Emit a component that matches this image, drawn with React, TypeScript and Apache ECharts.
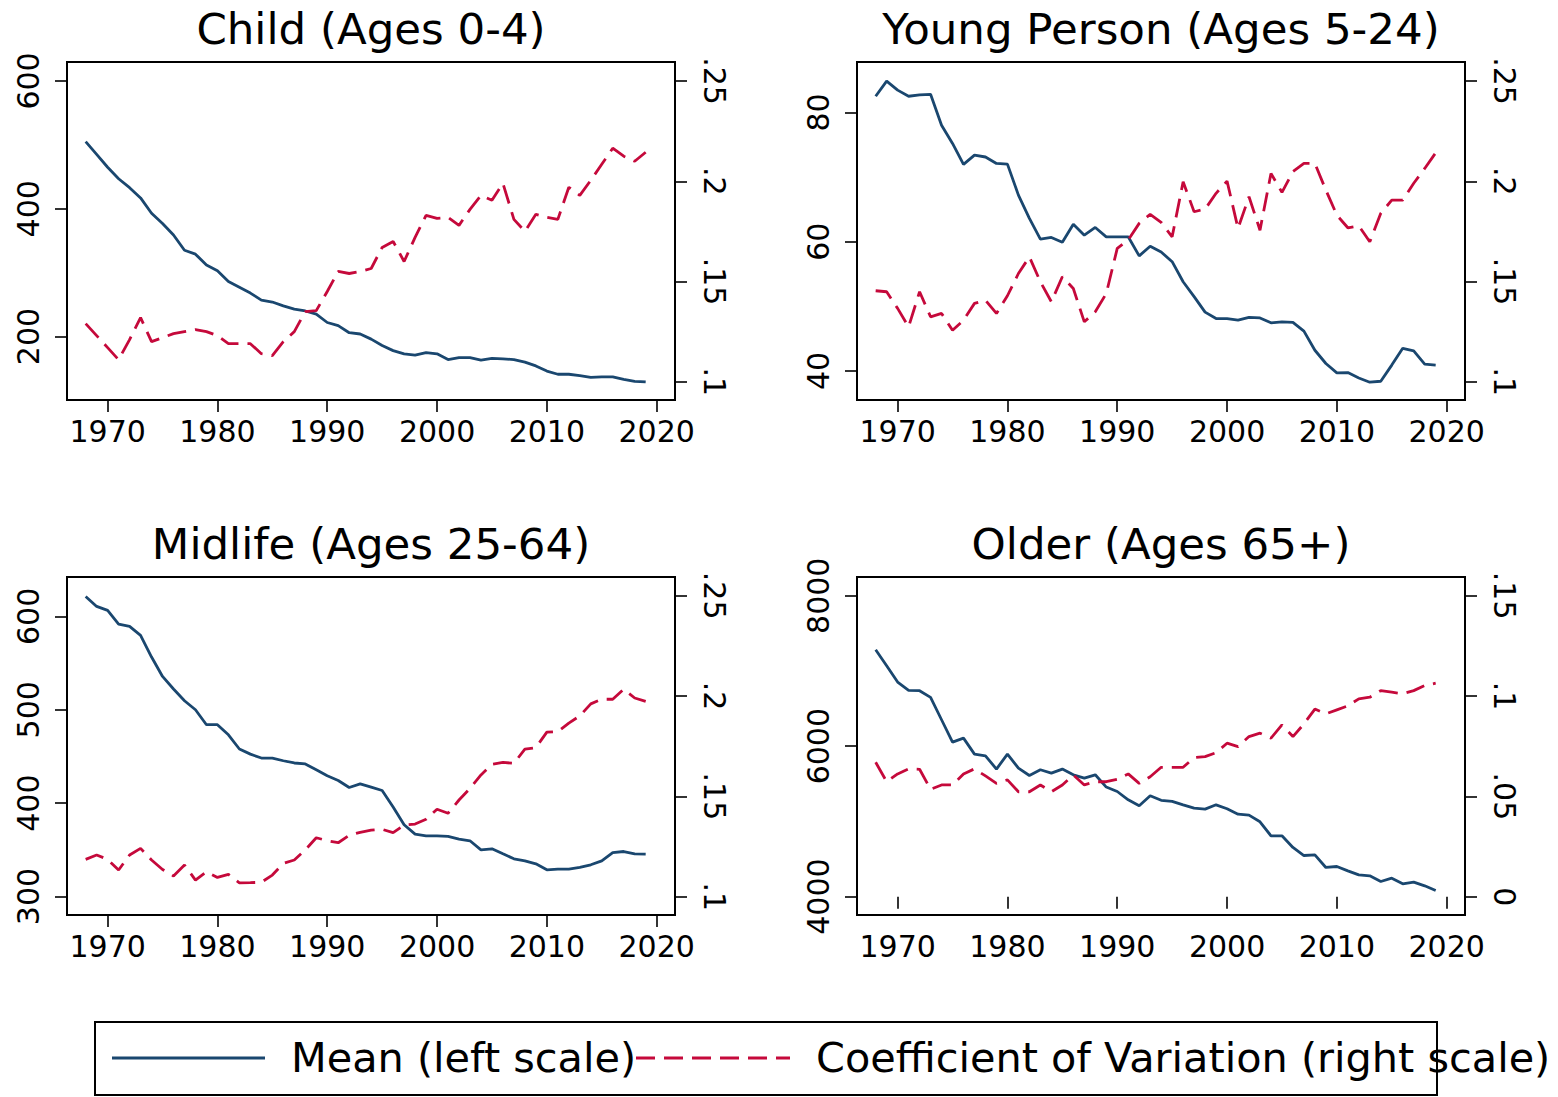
import React, { useEffect, useRef } from "react";
import * as echarts from "echarts";

const years = [
  1968, 1969, 1970, 1971, 1972, 1973, 1974, 1975, 1976, 1977, 1978, 1979, 1980,
  1981, 1982, 1983, 1984, 1985, 1986, 1987, 1988, 1989, 1990, 1991, 1992, 1993,
  1994, 1995, 1996, 1997, 1998, 1999, 2000, 2001, 2002, 2003, 2004, 2005, 2006,
  2007, 2008, 2009, 2010, 2011, 2012, 2013, 2014, 2015, 2016, 2017, 2018, 2019,
];

const childMean = [
  505, 485, 465, 447, 433, 417, 393, 377, 359, 335, 329, 312, 303, 286, 277, 268,
  257, 254, 248, 243, 240, 235, 222, 217, 206, 204, 196, 186, 178, 173, 171, 175,
  173, 164, 167, 167, 163, 166, 165, 164, 160, 154, 146, 141, 141, 139, 136, 137,
  137, 133, 130, 129,
];
const childCV = [
  0.129, 0.123, 0.117, 0.111, 0.121, 0.132, 0.12, 0.122, 0.124, 0.125, 0.126,
  0.125, 0.123, 0.119, 0.119, 0.119, 0.114, 0.113, 0.12, 0.125, 0.135, 0.1355,
  0.145, 0.155, 0.154, 0.155, 0.1565, 0.167, 0.17, 0.16, 0.172, 0.183, 0.1815,
  0.182, 0.178, 0.186, 0.193, 0.1905, 0.199, 0.181, 0.175, 0.1835, 0.182, 0.181,
  0.197, 0.193, 0.2005, 0.2085, 0.2165, 0.2125, 0.21, 0.2145,
];

const youngMean = [
  82.5, 84.85, 83.45, 82.5, 82.7, 82.8, 78.0, 75.2, 71.95, 73.4, 73.1, 72.1, 72.0,
  67.2, 63.6, 60.4, 60.65, 59.9, 62.7, 61.0, 62.2, 60.75, 60.75, 60.75, 57.8,
  59.3, 58.4, 56.9, 53.8, 51.5, 49.1, 48.1, 48.1, 47.85, 48.3, 48.2, 47.45, 47.6,
  47.5, 46.15, 43.2, 41.15, 39.7, 39.75, 38.9, 38.25, 38.4, 40.9, 43.5, 43.1,
  41.04, 40.9,
];
const youngCV = [
  0.1454, 0.1449, 0.1366, 0.1274, 0.1449, 0.1324, 0.1341, 0.1257, 0.1307,
  0.1391, 0.1407, 0.1341, 0.1429, 0.154, 0.1623, 0.1499, 0.1399, 0.1524, 0.1465,
  0.1299, 0.1349, 0.144, 0.1665, 0.1707, 0.179, 0.1835, 0.1795, 0.1723, 0.1998,
  0.1848, 0.1861, 0.194, 0.2001, 0.1765, 0.1923, 0.1756, 0.2039, 0.1945, 0.2048,
  0.2089, 0.2089, 0.1956, 0.1831, 0.1768, 0.1778, 0.1698, 0.184, 0.1906, 0.1906,
  0.199, 0.2064, 0.2142,
];

const midMean = [
  621.4, 610.7, 606.4, 591.8, 589.3, 579.6, 556.5, 535.7, 522.2, 509.7, 500, 484,
  484, 473.2, 458, 452.5, 448.3, 448.3, 445.4, 443, 442, 435.7, 429.3, 424.3,
  416.8, 420.7, 417.2, 413.5, 395.8, 376.8, 366.8, 365, 365, 364.3, 361.5, 359.7,
  350, 351.1, 345.7, 340.4, 338.2, 335, 328.6, 329.3, 329.3, 331.1, 334, 338.2,
  347.1, 348.2, 345.7, 345.4,
];
const midCV = [
  0.1186, 0.1208, 0.1186, 0.1133, 0.1208, 0.1241, 0.1183, 0.1136, 0.1103,
  0.1158, 0.1083, 0.1124, 0.1096, 0.1111, 0.1069, 0.107, 0.1072, 0.1108, 0.1166,
  0.1183, 0.1233, 0.1294, 0.1279, 0.1269, 0.1306, 0.1321, 0.1332, 0.1336,
  0.1319, 0.1357, 0.1362, 0.1386, 0.1436, 0.1416, 0.1482, 0.154, 0.1607, 0.166,
  0.1669, 0.1665, 0.1735, 0.1743, 0.182, 0.1823, 0.1865, 0.1901, 0.1961, 0.1984,
  0.1984, 0.2034, 0.199, 0.1973,
];

const oldMean = [
  7282, 7069, 6852, 6741, 6737, 6648, 6351, 6054, 6107, 5894, 5872, 5695, 5894,
  5708, 5610, 5686, 5642, 5695, 5619, 5575, 5619, 5456, 5397, 5287, 5207, 5340,
  5280, 5265, 5220, 5176, 5163, 5220, 5167, 5096, 5083, 4994, 4808, 4808, 4653,
  4546, 4555, 4387, 4400, 4342, 4289, 4276, 4200, 4245, 4170, 4192, 4143, 4081,
];
const oldCV = [
  0.067, 0.0573, 0.0612, 0.0637, 0.0635, 0.0535, 0.0557, 0.0557, 0.0612, 0.0637,
  0.0602, 0.0565, 0.0582, 0.0523, 0.0523, 0.0557, 0.0523, 0.0557, 0.0607,
  0.0557, 0.0573, 0.0573, 0.0585, 0.0612, 0.0565, 0.0598, 0.0645, 0.0645,
  0.0645, 0.0693, 0.0698, 0.0718, 0.0765, 0.0748, 0.0798, 0.0815, 0.079, 0.0856,
  0.0798, 0.0861, 0.0935, 0.0911, 0.0931, 0.0951, 0.0986, 0.0994, 0.1027,
  0.1019, 0.1011, 0.1027, 0.1052, 0.1064,
];

const titles = [
  "Child (Ages 0-4)",
  "Young Person (Ages 5-24)",
  "Midlife (Ages 25-64)",
  "Older (Ages 65+)",
];
const xTicks = [1970, 1980, 1990, 2000, 2010, 2020];
const leftTicks = [
  [200, 400, 600],
  [40, 60, 80],
  [300, 400, 500, 600],
  [4000, 6000, 8000],
];
const rightTicks = [
  [0.1, 0.15, 0.2, 0.25],
  [0.1, 0.15, 0.2, 0.25],
  [0.1, 0.15, 0.2, 0.25],
  [0, 0.05, 0.1, 0.15],
];
const leftRange = [
  [100.7, 629.7],
  [35.5, 87.8],
  [280.2, 642.2],
  [3755, 8249],
];
const rightRange = [
  [0.0909, 0.2595],
  [0.0909, 0.2595],
  [0.0909, 0.2593],
  [-0.0091, 0.1593],
];
const meanSeries = [childMean, youngMean, midMean, oldMean];
const cvSeries = [childCV, youngCV, midCV, oldCV];

const legendLabels = ["Mean (left scale)", "Coefficient of Variation (right scale)"];

const NAVY = "#1a476f";
const RED = "#c5093b";
const FONT = "DejaVu Sans";
const DASH = [19, 9];
const LW = 2.8;

// layout
const GRID_POS = [
  { left: 67, top: 62 },
  { left: 857, top: 62 },
  { left: 67, top: 577 },
  { left: 857, top: 577 },
];
const GRID_W = 608;
const GRID_H = 338;

function fmtRight(v: number) {
  if (v === 0) return "0";
  return String(+v.toFixed(3)).replace(/^0/, "");
}

export default function App() {
  const ref = useRef<HTMLDivElement>(null);
  useEffect(() => {
    document.body.style.margin = "0";
    if (!ref.current) return;
    const chart = echarts.init(ref.current, undefined, { renderer: "svg" });

    const labelBase = { color: "#000", fontFamily: FONT, fontSize: 30 };
    const tickStyle = { color: "#000", width: 1.6 };

    const grid = GRID_POS.map((p) => ({
      left: p.left,
      top: p.top,
      width: GRID_W,
      height: GRID_H,
      show: true,
      borderColor: "#000",
      borderWidth: 2,
      backgroundColor: "#fff",
      containLabel: false,
      outerBoundsMode: "none",
    }));

    const xAxis = GRID_POS.map((_, i) => ({
      type: "value",
      gridIndex: i,
      min: 1966.3,
      max: 2021.67,
      axisLine: { show: false },
      splitLine: { show: false },
      axisTick: { show: true, length: 12, lineStyle: tickStyle, customValues: xTicks },
      axisLabel: { ...labelBase, margin: 16, customValues: xTicks, formatter: (v: number) => String(v) },
    }));

    const yAxis: any[] = [];
    GRID_POS.forEach((_, i) => {
      yAxis.push({
        type: "value",
        gridIndex: i,
        position: "left",
        min: leftRange[i][0],
        max: leftRange[i][1],
        axisLine: { show: false },
        splitLine: { show: false },
        axisTick: { show: true, length: 12, lineStyle: tickStyle, customValues: leftTicks[i] },
        axisLabel: {
          ...labelBase,
          rotate: 90,
          margin: 24,
          customValues: leftTicks[i],
          formatter: (v: number) => String(Math.round(v)),
        },
      });
      yAxis.push({
        type: "value",
        gridIndex: i,
        position: "right",
        min: rightRange[i][0],
        max: rightRange[i][1],
        axisLine: { show: false },
        splitLine: { show: false },
        axisTick: { show: true, length: 12, lineStyle: tickStyle, customValues: rightTicks[i] },
        axisLabel: {
          ...labelBase,
          rotate: -90,
          margin: 24,
          customValues: rightTicks[i],
          formatter: (v: number) => fmtRight(v),
        },
      });
    });

    const series: any[] = [];
    GRID_POS.forEach((_, i) => {
      series.push({
        type: "line",
        name: legendLabels[0],
        xAxisIndex: i,
        yAxisIndex: i * 2,
        data: years.map((y, k) => [y, meanSeries[i][k]]),
        showSymbol: false,
        symbol: "none",
        lineStyle: { color: NAVY, width: LW },
        z: 3,
      });
      series.push({
        type: "line",
        name: legendLabels[1],
        xAxisIndex: i,
        yAxisIndex: i * 2 + 1,
        data: years.map((y, k) => [y, cvSeries[i][k]]),
        showSymbol: false,
        symbol: "none",
        lineStyle: { color: RED, width: LW, type: DASH, cap: "butt" },
        z: 4,
      });
    });

    const titleGraphics = GRID_POS.map((p, i) => ({
      type: "text",
      x: p.left + GRID_W / 2,
      y: p.top - 33,
      style: {
        text: titles[i],
        fill: "#000",
        fontFamily: FONT,
        fontSize: 43.5,
        align: "center",
        verticalAlign: "middle",
      },
    }));

    const legendY = 1058;
    const legendGraphics = [
      {
        type: "rect",
        shape: { x: 95, y: 1022, width: 1342, height: 73 },
        style: { fill: "#fff", stroke: "#000", lineWidth: 2 },
        z: 1,
      },
      {
        type: "line",
        shape: { x1: 112, y1: legendY, x2: 265, y2: legendY },
        style: { stroke: NAVY, lineWidth: LW },
        z: 2,
      },
      {
        type: "text",
        x: 291,
        y: legendY,
        style: {
          text: legendLabels[0],
          fill: "#000",
          fontFamily: FONT,
          fontSize: 41.4,
          align: "left",
          verticalAlign: "middle",
        },
        z: 2,
      },
      {
        type: "line",
        shape: { x1: 636, y1: legendY, x2: 790, y2: legendY },
        style: { stroke: RED, lineWidth: LW, lineDash: DASH },
        z: 2,
      },
      {
        type: "text",
        x: 816,
        y: legendY,
        style: {
          text: legendLabels[1],
          fill: "#000",
          fontFamily: FONT,
          fontSize: 41.4,
          align: "left",
          verticalAlign: "middle",
        },
        z: 2,
      },
    ];

    chart.setOption({
      animation: false,
      backgroundColor: "#fff",
      grid,
      xAxis,
      yAxis,
      series,
      graphic: [...titleGraphics, ...legendGraphics],
    });

    return () => chart.dispose();
  }, []);

  return <div ref={ref} style={{ width: 1558, height: 1097 }} />;
}
